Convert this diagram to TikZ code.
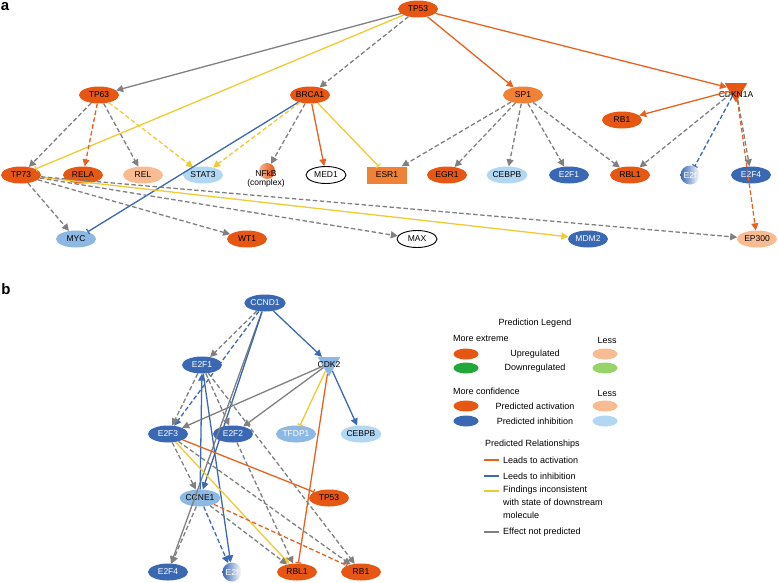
\documentclass[tikz,border=0pt]{standalone}
\usepackage{fontspec}
\setmainfont{Liberation Sans}
\usetikzlibrary{shapes.geometric,arrows.meta}
\definecolor{orgD}{RGB}{229,87,18}
\definecolor{orgM}{RGB}{240,130,55}
\definecolor{orgL}{RGB}{249,187,146}
\definecolor{bluD}{RGB}{58,104,178}
\definecolor{bluM}{RGB}{141,184,227}
\definecolor{bluL}{RGB}{178,215,242}
\definecolor{grnD}{RGB}{34,167,58}
\definecolor{grnL}{RGB}{152,211,106}
\definecolor{eOrg}{RGB}{230,98,30}
\definecolor{eBlu}{RGB}{60,105,180}
\definecolor{eYel}{RGB}{240,202,50}
\definecolor{eGry}{RGB}{128,128,128}
\begin{document}
\begin{tikzpicture}[x=1pt,y=-1pt,
  nd/.style={ellipse, minimum width=40pt, minimum height=17pt, inner sep=0pt, font=\fontsize{8.5}{9}\selectfont},
  up/.style={nd, fill=orgD},
  upm/.style={nd, fill=orgM},
  upl/.style={nd, fill=orgL},
  dn/.style={nd, fill=bluD, text=white},
  dnm/.style={nd, fill=bluM},
  dnl/.style={nd, fill=bluL},
  wh/.style={nd, draw=black, line width=0.9pt, fill=white},
  tri/.style={regular polygon, regular polygon sides=3, shape border rotate=180, minimum size=26pt, inner sep=0pt},
  lbl/.style={font=\fontsize{8.5}{9}\selectfont, inner sep=0pt},
  ln/.style={line width=1.3pt},
  tipA/.style={-{Triangle[width=7pt,length=7pt]}},
  tipT/.style={-{Bar[width=6pt,line width=1.2pt]}},
  dsh/.style={dash pattern=on 4.5pt off 2.5pt},
  cG/.style={ln, draw=eGry},
  cO/.style={ln, draw=eOrg},
  cB/.style={ln, draw=eBlu},
  cY/.style={ln, draw=eYel},
  lgt/.style={font=\fontsize{9}{10}\selectfont, inner sep=0pt},
  lge/.style={ellipse, minimum width=25pt, minimum height=11pt, inner sep=0pt},
  panel/.style={font=\fontsize{15}{15}\selectfont\bfseries, inner sep=0pt}
]
\useasboundingbox (0,0) rectangle (778,582);

% ---------------- panel a ----------------
\node[panel] (la) at (5,7) {a};
\node[up] (tp53) at (418,9) {TP53};
\node[up] (tp63) at (99,95) {TP63};
\node[up] (brca1) at (310,95) {BRCA1};
\node[upm] (sp1) at (523,95) {SP1};
\node[tri, fill=orgD] (cdkn) at (736,89.5) {};
\node[lbl] (cdknl) at (736,95) {CDKN1A};
\node[up] (rb1a) at (622,120) {RB1};

\node[up] (tp73) at (21,175) {TP73};
\node[up] (rela) at (83,175) {RELA};
\node[upl] (rel) at (143,175) {REL};
\node[dnl] (stat3) at (203,175) {STAT3};
\node[circle, minimum size=16pt, inner sep=0pt, left color=orgD!45, right color=orgD] (nfkb) at (267,171) {};
\node[lbl, align=center] (nfkbl) at (266,178.5) {NFkB\\(complex)};
\node[wh] (med1) at (326,175) {MED1};
\node[rectangle, fill=orgM, minimum width=40pt, minimum height=17pt, inner sep=0pt, font=\fontsize{8.5}{9}\selectfont] (esr1) at (387,175) {ESR1};
\node[up] (egr1) at (447,175) {EGR1};
\node[dnl] (cebpba) at (507,175) {CEBPB};
\node[dn] (e2f1a) at (569,175) {E2F1};
\node[up] (rbl1a) at (630,175) {RBL1};
\node[circle, minimum size=19pt, inner sep=0pt, left color=bluD, right color=white, text=white, font=\fontsize{8.5}{9}\selectfont] (e2fa) at (690,175) {E2f};
\node[dn] (e2f4a) at (751,175) {E2F4};

\node[dnm] (myc) at (76,239) {MYC};
\node[up] (wt1) at (247,239) {WT1};
\node[wh] (max) at (417,239) {MAX};
\node[dn] (mdm2) at (588,239) {MDM2};
\node[upl] (ep300) at (757,239) {EP300};

\draw[cG,tipA] (tp53) -- (tp63);
\draw[cY,tipT] (tp53) -- (tp73);
\draw[cG,dsh,tipA] (tp53) -- (brca1);
\draw[cO,tipA] (tp53) -- (sp1);
\draw[cO,tipA] (tp53) -- (cdkn);

\draw[cG,dsh,tipA] (tp63) -- (tp73);
\draw[cO,dsh,tipA] (tp63) -- (rela);
\draw[cG,dsh,tipA] (tp63) -- (rel);
\draw[cY,dsh,tipA] (tp63) -- (stat3);

\draw[cB,tipT] (brca1) -- (myc);
\draw[cY,dsh,tipA] (brca1) -- (stat3);
\draw[cG,dsh,tipA] (brca1) -- (nfkb);
\draw[cO,tipA] (brca1) -- (med1);
\draw[cY,tipT] (brca1) -- (esr1);

\draw[cG,dsh,tipA] (sp1) -- (esr1);
\draw[cG,dsh,tipA] (sp1) -- (egr1);
\draw[cG,dsh,tipA] (sp1) -- (cebpba);
\draw[cG,dsh,tipA] (sp1) -- (e2f1a);
\draw[cG,dsh,tipA] (sp1) -- (rbl1a);

\draw[cO,tipA] (cdkn) -- (rb1a);
\draw[cG,dsh,tipA] (cdkn) -- (rbl1a);
\draw[cB,dsh,tipT] (cdkn) -- (e2fa);
\draw[cG,dsh,tipA] (cdkn) -- (e2f4a);
\draw[cO,dsh,tipA] (cdkn) -- (ep300);

\draw[cG,dsh,tipA] (tp73) -- (myc);
\draw[cG,dsh,tipA] (tp73) -- (wt1);
\draw[cG,dsh,tipA] (tp73) -- (max);
\draw[cY,tipA] (tp73) -- (mdm2);
\draw[cG,dsh,tipA] (tp73) -- (ep300);

% ---------------- panel b ----------------
\node[panel] (lb) at (6,289) {b};
\node[dn] (ccnd1) at (265,303) {CCND1};
\node[tri, fill=bluM] (cdk2) at (329,363.5) {};
\node[lbl] (cdk2l) at (329,365) {CDK2};
\node[dn] (e2f1) at (202,365) {E2F1};
\node[dn] (e2f3) at (168,434) {E2F3};
\node[dn] (e2f2) at (233,434) {E2F2};
\node[dnm, text=white] (tfdp1) at (296,434) {TFDP1};
\node[dnl] (cebpb) at (361,434) {CEBPB};
\node[up] (tp53b) at (329,498) {TP53};
\node[dnm] (ccne1) at (200,498) {CCNE1};
\node[dn] (e2f4) at (168,572) {E2F4};
\node[circle, minimum size=19pt, inner sep=0pt, left color=bluD, right color=white, text=white, font=\fontsize{8.5}{9}\selectfont] (e2fb) at (232,572) {E2f};
\node[up] (rbl1) at (297,572) {RBL1};
\node[up] (rb1) at (361,572) {RB1};

\draw[cG,dsh,tipA] (ccnd1) -- (e2f1);
\draw[cB,dsh,tipA] (ccnd1) -- (e2f3);
\draw[cG,tipA] (ccnd1) -- (e2f4);
\draw[cB,tipA] (ccnd1) -- (ccne1);
\draw[cB,tipA] (ccnd1) -- (cdk2);

\draw[cG,tipA] (cdk2) -- (e2f3);
\draw[cG,tipA] (cdk2) -- (e2f2);
\draw[cY,tipT] (cdk2) -- (tfdp1);
\draw[cO,tipT] (cdk2) -- (rbl1);
\draw[cB,tipA] (cdk2) -- (cebpb);

\draw[cG,dsh,tipA] (e2f1) -- (e2f3);
\draw[cG,dsh,tipA] (e2f1) -- (e2f2);
\draw[cG,dsh,tipA] (e2f1) -- (rb1);
\draw[cB,tipA] (e2f1) -- (e2fb);
\draw[cB,tipA] (ccne1) -- (e2f1);

\draw[cG,dsh,tipA] (e2f3) -- (ccne1);
\draw[cO,tipT] (e2f3) -- (tp53b);
\draw[cY,tipA] (e2f3) -- (rbl1);
\draw[cG,dsh,tipA] (e2f3) -- (rb1);
\draw[cG,dsh,tipA] (e2f2) -- (rbl1);

\draw[cG,dsh,tipA] (ccne1) -- (e2f4);
\draw[cB,dsh,tipA] (ccne1) -- (e2fb);
\draw[cG,dsh,tipA] (ccne1) -- (rbl1);
\draw[cO,dsh,tipT] (ccne1) -- (rb1);

% ---------------- legend ----------------
\node[lgt] (lgtitle) at (535,323) {Prediction Legend};
\node[lgt, anchor=west] (lgext) at (453,338) {More extreme};
\node[lgt] (lgless1) at (607,340) {Less};
\node[lge, fill=orgD] (e1a) at (466,354) {};
\node[lgt] (tup) at (535,354) {Upregulated};
\node[lge, fill=orgL] (e1b) at (605,354) {};
\node[lge, fill=grnD] (e2a) at (466,368) {};
\node[lgt] (tdn) at (535,368) {Downregulated};
\node[lge, fill=grnL] (e2b) at (605,368) {};
\node[lgt, anchor=west] (lgconf) at (453,391) {More confidence};
\node[lgt] (lgless2) at (607,393) {Less};
\node[lge, fill=orgD] (e3a) at (466,406) {};
\node[lgt] (tact) at (535,406) {Predicted activation};
\node[lge, fill=orgL] (e3b) at (605,406) {};
\node[lge, fill=bluD] (e4a) at (466,421) {};
\node[lgt] (tinh) at (535,421) {Predicted inhibition};
\node[lge, fill=bluL] (e4b) at (605,421) {};

\node[lgt, anchor=west] (lgrel) at (485,444) {Predicted Relationships};
\coordinate (r1a) at (484,460); \coordinate (r1b) at (499,460);
\coordinate (r2a) at (484,476); \coordinate (r2b) at (499,476);
\coordinate (r3a) at (484,491); \coordinate (r3b) at (499,491);
\coordinate (r4a) at (484,532); \coordinate (r4b) at (499,532);
\draw[draw=eOrg, line width=1.2pt] (r1a) -- (r1b);
\draw[draw=eBlu, line width=1.2pt] (r2a) -- (r2b);
\draw[draw=eYel, line width=1.2pt] (r3a) -- (r3b);
\draw[draw=eGry, line width=1.2pt] (r4a) -- (r4b);
\node[lgt, anchor=west] (t1) at (503,460) {Leads to activation};
\node[lgt, anchor=west] (t2) at (503,476) {Leeds to inhibition};
\node[lgt, anchor=north west, align=left, font=\fontsize{9}{13}\selectfont] (t3) at (503,486) {Findings inconsistent\\with state of downstream\\molecule};
\node[lgt, anchor=west] (t4) at (503,532) {Effect not predicted};
\end{tikzpicture}
\end{document}
